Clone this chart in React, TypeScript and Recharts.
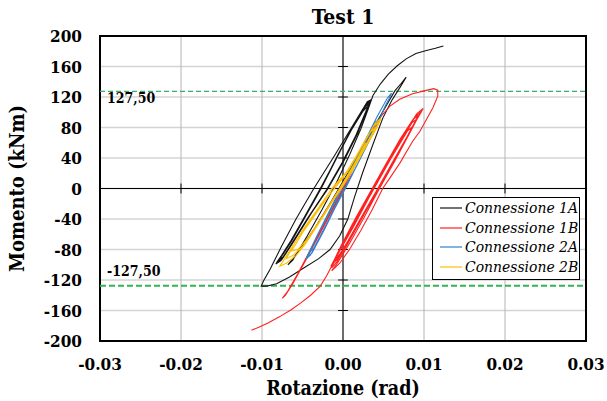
import {
  CartesianGrid,
  ComposedChart,
  Legend,
  Line,
  ReferenceArea,
  ReferenceLine,
  XAxis,
  YAxis,
} from "recharts";

const FONT = "'DejaVu Serif Condensed', 'DejaVu Serif', serif";

const xTicks = [-0.03, -0.02, -0.01, 0, 0.01, 0.02, 0.03];
const yTicks = [-200, -160, -120, -80, -40, 0, 40, 80, 120, 160, 200];
const limitMoments = [127.5, -127.5];

// rotazione (rad), momento (kNm)
const conn1A: [number, number][] = [
  [-0.0019, 0], [0.0, 35], [0.0017, 72], [0.0028, 100], [0.0033, 114],
  [0.0027, 108], [0.0012, 80], [-0.0005, 46], [-0.0028, 0], [-0.0048, -38], [-0.0064, -68], [-0.0076, -88], [-0.0082, -97],
  [-0.0076, -93], [-0.0062, -70], [-0.0042, -36], [-0.0019, 0], [0.0, 35], [0.0017, 72], [0.0028, 100], [0.0035, 117],
  [0.0028, 110], [0.0013, 82], [-0.0004, 48], [-0.0026, 2], [-0.0046, -36], [-0.0062, -66], [-0.0074, -86], [-0.008, -95],
  [-0.0074, -91], [-0.006, -68], [-0.004, -34], [-0.0018, 2], [0.0001, 37], [0.0016, 68], [0.0026, 95], [0.0031, 108],
  [0.0025, 102], [0.001, 76], [-0.0007, 42], [-0.0029, -2], [-0.0049, -40], [-0.0065, -70], [-0.0077, -90], [-0.0083, -99],
  [-0.0077, -95], [-0.0063, -72], [-0.0043, -38], [-0.002, -1], [-0.0001, 34], [0.0016, 70], [0.0027, 98], [0.0033, 113],
  [0.0026, 105], [0.0011, 78], [-0.0006, 44], [-0.0027, 1], [-0.0047, -37], [-0.0063, -67], [-0.0075, -87], [-0.0081, -96],
  [-0.0075, -92], [-0.0061, -69], [-0.0041, -35], [-0.0018, 1], [0.0001, 36], [0.0018, 73], [0.0029, 102], [0.0034, 116],
  [0.0027, 108], [0.0012, 81], [-0.0006, 45], [-0.0028, -1], [-0.0048, -39], [-0.0064, -69], [-0.0076, -89], [-0.0082, -98],
  [-0.0076, -94], [-0.0062, -71], [-0.0042, -37], [-0.0019, -1], [0.0, 35], [0.0017, 71], [0.0028, 100], [0.0034, 115],
  [0.0026, 106], [0.0011, 79], [-0.0005, 47], [-0.0027, 0], [-0.0047, -38], [-0.0063, -68], [-0.0074, -86], [-0.0079, -93],
  [-0.0073, -89], [-0.0059, -66], [-0.0039, -32], [-0.0017, 3], [0.0002, 38], [0.0018, 72], [0.0028, 99], [0.0034, 116],
  [0.003, 114], [0.0014, 86], [-0.001, 44], [-0.0036, 0], [-0.0058, -40], [-0.0076, -76], [-0.009, -106], [-0.0098, -121], [-0.0101, -128],
  [-0.0094, -128], [-0.0082, -125], [-0.0066, -116], [-0.0048, -104], [-0.003, -92], [-0.0016, -80], [-0.0004, -62], [0.0006, -40],
  [0.0014, -12], [0.0024, 20], [0.0036, 55], [0.0049, 92], [0.006, 115], [0.007, 132], [0.0078, 146],
  [0.0072, 138], [0.0064, 128], [0.0046, 95], [0.0028, 62], [0.0008, 24], [-0.0014, -16], [-0.0036, -54], [-0.0056, -84], [-0.0068, -100],
  [-0.0062, -94], [-0.0044, -62], [-0.0026, -28], [-0.0008, 8], [0.0008, 44], [0.0022, 78], [0.0031, 104], [0.0037, 122],
  [0.0046, 137], [0.0056, 150], [0.0067, 161], [0.0078, 170], [0.009, 177], [0.0103, 181], [0.0114, 184], [0.0124, 187],
];

const conn1B: [number, number][] = [
  [0.0012, 20], [-0.0005, -12], [-0.0025, -52], [-0.0045, -92], [-0.0062, -125], [-0.0071, -140], [-0.0075, -144],
  [-0.0069, -136], [-0.0056, -112], [-0.0038, -76], [-0.0018, -36], [0.0002, 4], [0.0022, 46], [0.0038, 80], [0.0048, 96],
  [0.0058, 108], [0.007, 117], [0.0085, 124], [0.01, 128], [0.0112, 131], [0.0117, 129], [0.0117, 121], [0.0111, 106],
  [0.0095, 75], [0.0086, 62], [0.007, 33], [0.0058, 14], [0.0049, 0], [0.0036, -28], [0.0022, -55], [0.0008, -80], [-0.0004, -98], [-0.0014, -108],
  [-0.0007, -98], [0.0008, -72], [0.0026, -38], [0.0045, 0], [0.0064, 36], [0.0082, 72], [0.0093, 94], [0.0098, 104],
  [0.0091, 98], [0.0074, 70], [0.0056, 36], [0.0037, 0], [0.0018, -36], [0.0, -72], [-0.001, -94], [-0.0014, -104],
  [-0.0008, -97], [0.0007, -70], [0.0025, -36], [0.0043, 0], [0.0062, 36], [0.0079, 68], [0.0089, 88], [0.0093, 96],
  [0.0086, 90], [0.007, 64], [0.0053, 32], [0.0035, -2], [0.0016, -38], [-0.0001, -72], [-0.0011, -94], [-0.0015, -102],
  [-0.0009, -95], [0.0006, -69], [0.0024, -35], [0.0044, 2], [0.0063, 38], [0.0081, 71], [0.0092, 92], [0.0097, 101],
  [0.009, 95], [0.0073, 68], [0.0055, 34], [0.0036, -1], [0.0017, -37], [0.0, -71], [-0.0009, -90], [-0.0013, -99],
  [-0.0006, -92], [0.0009, -66], [0.0027, -32], [0.0046, 3], [0.0065, 39], [0.008, 68], [0.0087, 82],
  [0.008, 76], [0.0064, 48], [0.0046, 16], [0.0028, -18], [0.001, -52], [-0.0004, -80], [-0.0012, -96],
  [-0.0004, -86], [0.0012, -60], [0.003, -26], [0.0049, 8], [0.0068, 44], [0.0084, 76], [0.0092, 92],
  [0.0085, 86], [0.0068, 56], [0.005, 22], [0.0031, -14], [0.0013, -50], [-0.0003, -80], [-0.0011, -95],
  [-0.0005, -90], [0.001, -64], [0.0028, -30], [0.0047, 5], [0.0066, 41], [0.0083, 74], [0.0094, 96], [0.0099, 105],
  [0.0092, 99], [0.0075, 71], [0.0057, 37], [0.0038, 1], [0.0019, -35], [0.0001, -70], [-0.001, -94], [-0.0016, -106], [-0.002, -114],
  [-0.0028, -128], [-0.004, -140], [-0.0052, -150], [-0.0064, -159], [-0.0078, -168], [-0.0092, -176], [-0.0104, -182], [-0.0113, -186],
];

const conn2A: [number, number][] = [
  [0.0003, 0], [0.0018, 32], [0.0032, 62], [0.0042, 84], [0.0046, 92],
  [0.004, 87], [0.0024, 56], [0.001, 26], [-0.0003, 0], [-0.0018, -32], [-0.0032, -62], [-0.004, -80], [-0.0044, -90],
  [-0.0038, -84], [-0.0024, -56], [-0.001, -26], [0.0003, 0], [0.0018, 32], [0.0032, 62], [0.0044, 88], [0.0052, 108], [0.0057, 118], [0.006, 125],
  [0.0055, 119], [0.0042, 94], [0.0026, 60], [0.001, 26], [-0.0004, -2], [-0.0019, -34], [-0.0033, -64], [-0.0042, -84], [-0.0046, -93],
  [-0.004, -87], [-0.0026, -58], [-0.0011, -27], [0.0002, 0], [0.0017, 30], [0.003, 58], [0.0038, 74],
  [0.0032, 68], [0.0016, 36], [0.0001, 4], [-0.0015, -28], [-0.0029, -56], [-0.0038, -76], [-0.0042, -84],
  [-0.0036, -78], [-0.0022, -50], [-0.0008, -20], [0.0005, 6], [0.002, 36], [0.0034, 66], [0.0041, 80],
  [0.0034, 72], [0.0018, 40], [0.0004, 10],
];

const conn2B: [number, number][] = [
  [-0.0002, 0], [0.0014, 28], [0.003, 58], [0.0042, 80], [0.0047, 92],
  [0.004, 86], [0.0024, 56], [0.0008, 26], [-0.0014, 0], [-0.003, -26], [-0.0046, -50], [-0.006, -72], [-0.0072, -92], [-0.0078, -102],
  [-0.007, -98], [-0.0058, -88], [-0.0046, -72], [-0.003, -46], [-0.0016, -22], [-0.0002, 0], [0.0014, 28], [0.003, 58], [0.004, 78], [0.0045, 88],
  [0.0038, 82], [0.0022, 52], [0.0006, 22], [-0.0015, -2], [-0.0032, -28], [-0.0048, -52], [-0.006, -72], [-0.0066, -84], [-0.007, -92],
  [-0.0062, -88], [-0.005, -76], [-0.0038, -58], [-0.0024, -36], [-0.001, -12], [0.0004, 12], [0.002, 42], [0.0034, 68], [0.004, 80],
  [0.0032, 72], [0.0016, 42], [0.0, 14], [-0.0018, -10], [-0.0034, -34], [-0.005, -58], [-0.006, -76], [-0.0064, -82],
  [-0.0056, -80], [-0.0044, -66], [-0.003, -44], [-0.0016, -20], [-0.0002, 4], [0.0014, 32], [0.0028, 60],
];

const series = [
  { name: "Connessione 1A", color: "#141414", data: conn1A },
  { name: "Connessione 1B", color: "#ff2020", data: conn1B },
  { name: "Connessione 2A", color: "#2f80d0", data: conn2A },
  { name: "Connessione 2B", color: "#ffbf00", data: conn2B },
];

// half-length of the small tick marks drawn on the zero axes
const TICK_R = 0.0006;
const TICK_M = 6.5;

const toPoints = (pairs: [number, number][]) => pairs.map(([r, m]) => ({ r, m }));

const boldText = { fill: "#000", fontFamily: FONT, fontWeight: "bold" as const, fontStretch: "condensed" };

function LimitLabel(props: any) {
  const { viewBox, value, above } = props;
  return (
    <text
      x={viewBox.x + 7}
      y={above ? viewBox.y - 10 : viewBox.y + 12}
      fontSize={14}
      style={boldText}
    >
      {value}
    </text>
  );
}

function LegendBox({ payload }: any) {
  return (
    <div
      style={{
        width: 148,
        height: 83,
        boxSizing: "border-box",
        border: "1px solid #000",
        background: "#fff",
        padding: "0 0 0 7px",
      }}
    >
      {(payload || []).map((p: any) => (
        <div key={p.value} style={{ display: "flex", alignItems: "center", height: 19.7, whiteSpace: "nowrap" }}>
          <span
            style={{
              display: "inline-block",
              width: 22,
              height: 2,
              background: p.color,
              opacity: 0.6,
              marginRight: 3,
              flexShrink: 0,
            }}
          />
          <span style={{ fontFamily: FONT, fontStyle: "italic", fontSize: 15.5, fontStretch: "condensed", color: "#000", lineHeight: "18px" }}>
            {p.value}
          </span>
        </div>
      ))}
    </div>
  );
}

export default function App() {
  return (
    <div style={{ position: "absolute", left: 0, top: 0, width: 607, height: 401, background: "#fff" }}>
      <div
        style={{
          position: "absolute",
          left: 100,
          width: 486,
          top: 4,
          textAlign: "center",
          fontFamily: FONT,
          fontStretch: "condensed",
          fontWeight: "bold",
          fontSize: 21,
          lineHeight: "26px",
        }}
      >
        Test 1
      </div>
      <ComposedChart width={607} height={401} margin={{ top: 36, right: 21, bottom: 0, left: 0 }}>
        <CartesianGrid vertical={false} stroke="#d4d4d4" strokeWidth={1.5} />
        <CartesianGrid horizontal={false} stroke="#b4b4b4" />
        <XAxis
          type="number"
          dataKey="r"
          domain={[-0.03, 0.03]}
          ticks={xTicks}
          allowDataOverflow
          tickFormatter={(v: number) => v.toFixed(2)}
          axisLine={false}
          tickLine={false}
          tickSize={0}
          tickMargin={17}
          height={60}
          tick={{ ...boldText, fontSize: 17 }}
          label={{ value: "Rotazione (rad)", position: "insideBottom", offset: 6, style: { ...boldText, fontSize: 19.5 } }}
        />
        <YAxis
          type="number"
          domain={[-200, 200]}
          ticks={yTicks}
          allowDataOverflow
          axisLine={false}
          tickLine={false}
          tickSize={0}
          tickMargin={18}
          width={100}
          tick={{ ...boldText, fontSize: 17 }}
          label={{
            value: "Momento (kNm)",
            angle: -90,
            position: "insideLeft",
            offset: 17,
            style: { ...boldText, fontSize: 20, textAnchor: "middle" },
          }}
        />
        <ReferenceLine x={0} stroke="#000" />
        <ReferenceLine y={0} stroke="#000" />
        {yTicks
          .filter((v) => v !== 0 && Math.abs(v) !== 200)
          .map((v) => (
            <ReferenceLine key={`ty${v}`} segment={[{ x: -TICK_R, y: v }, { x: TICK_R, y: v }]} stroke="#000" />
          ))}
        {xTicks
          .filter((v) => v !== 0 && Math.abs(v) !== 0.03)
          .map((v) => (
            <ReferenceLine key={`tx${v}`} segment={[{ x: v, y: -TICK_M }, { x: v, y: TICK_M }]} stroke="#000" />
          ))}
        <ReferenceLine
          y={limitMoments[0]}
          stroke="#3dab6c"
          strokeWidth={1.2}
          strokeDasharray="5 3"
          label={(p: any) => <LimitLabel {...p} value="127,50" />}
        />
        <ReferenceLine
          y={limitMoments[1]}
          stroke="#2fb552"
          strokeWidth={2}
          strokeDasharray="6 3"
          label={(p: any) => <LimitLabel {...p} value="-127,50" above />}
        />
        {series.map((s) => (
          <Line
            key={s.name}
            name={s.name}
            data={toPoints(s.data)}
            dataKey="m"
            type="linear"
            stroke={s.color}
            strokeWidth={1.1}
            dot={false}
            activeDot={false}
            isAnimationActive={false}
          />
        ))}
        <ReferenceArea x1={-0.03} x2={0.03} y1={-200} y2={200} fill="none" stroke="#000" strokeWidth={2} ifOverflow="visible" />
        <Legend
          layout="vertical"
          align="center"
          verticalAlign="middle"
          content={<LegendBox />}
          wrapperStyle={{ left: 432, top: 197, width: 148, height: 83 }}
        />
      </ComposedChart>
    </div>
  );
}
